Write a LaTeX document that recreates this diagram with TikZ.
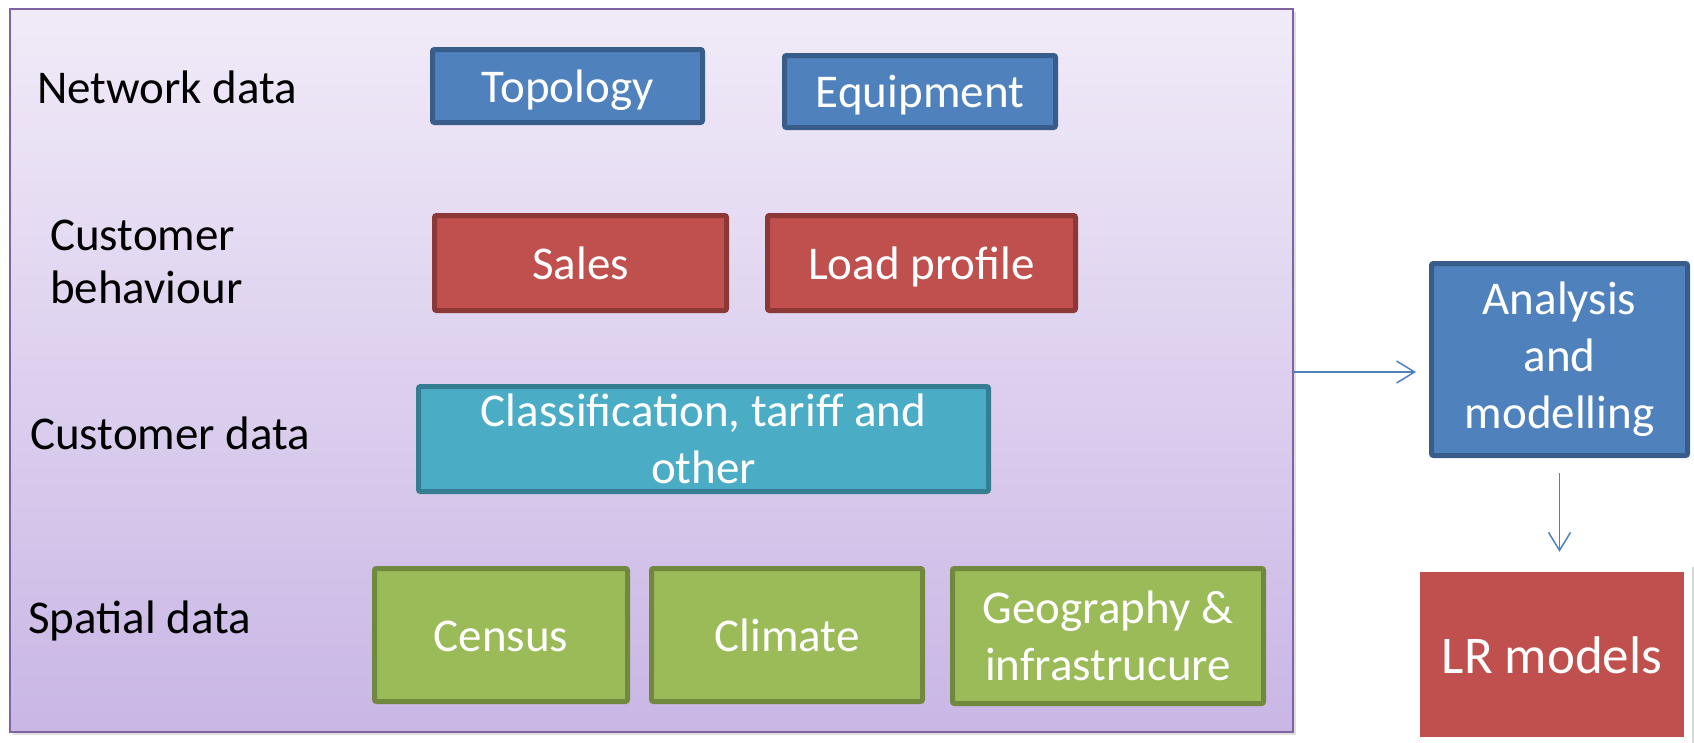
\documentclass[tikz,border=0pt]{standalone}
\usepackage{fontspec}
\setmainfont{Carlito}
\usetikzlibrary{arrows.meta,shadows}
\definecolor{bfill}{HTML}{4F81BD}
\definecolor{bline}{HTML}{385D8A}
\definecolor{rfill}{HTML}{C0504D}
\definecolor{rline}{HTML}{8C3836}
\definecolor{tfill}{HTML}{4BACC6}
\definecolor{tline}{HTML}{357D91}
\definecolor{gfill}{HTML}{9BBB59}
\definecolor{gline}{HTML}{71893F}
\definecolor{ptop}{HTML}{F1EBF8}
\definecolor{pbot}{HTML}{C9B6E5}
\definecolor{pline}{HTML}{8064A2}
\begin{document}
\begin{tikzpicture}[x=1pt,y=-1pt,
  txt/.style={font=\fontsize{47}{57}\selectfont, inner sep=0pt},
  lbl/.style={txt, anchor=base west, text=black},
  box/.style={txt, draw, line width=5pt, rounded corners=2pt, text=white, align=center},
  oneline/.style={text height=44pt, text depth=12pt},
  bluebox/.style={box, fill=bfill, draw=bline},
  redbox/.style={box, fill=rfill, draw=rline},
  tealbox/.style={box, fill=tfill, draw=tline},
  greenbox/.style={box, fill=gfill, draw=gline},
  conn/.style={draw=bfill, line width=1.5pt, -{Straight Barb[length=18pt,width=22pt,line width=1.5pt]}}
]
\useasboundingbox (0,0) rectangle (1694,742);

% big frame
\node[draw=pline, line width=2pt, top color=ptop, bottom color=pbot,
      minimum width=1283pt, minimum height=723pt, inner sep=0pt,
      drop shadow={opacity=0.25, shadow xshift=3pt, shadow yshift=-3pt}]
      (frame) at (651.75,370.5) {};

% row labels
\node[lbl] (lnet) at (37,103) {Network data};
\node[lbl] (lcb1) at (50,250) {Customer};
\node[lbl] (lcb2) at (50,303) {behaviour};
\node[lbl] (lcd) at (30,449) {Customer data};
\node[lbl] (lsd) at (28,633) {Spatial data};

% boxes
\node[bluebox, oneline, minimum width=270pt, minimum height=73pt] (topo) at (567.5,86) {Topology};
\node[bluebox, oneline, minimum width=271pt, minimum height=72pt] (equip) at (920,91.5) {Equipment};
\node[redbox, oneline, minimum width=292pt, minimum height=95pt] (sales) at (580.5,263) {Sales};
\node[redbox, oneline, minimum width=308pt, minimum height=95pt] (load) at (921.5,263) {Load profile};
\node[tealbox, minimum width=570pt, minimum height=105pt] (class) at (703.5,439) {Classification, tariff and\\other};
\node[greenbox, oneline, minimum width=253pt, minimum height=133pt] (census) at (501,635) {Census};
\node[greenbox, oneline, minimum width=271pt, minimum height=133pt] (climate) at (787,635) {Climate};
\node[greenbox, minimum width=311pt, minimum height=135pt] (geo) at (1108,636) {Geography \&\\infrastrucure};

% analysis
\node[bluebox, minimum width=256pt, minimum height=192pt] (ana) at (1559.5,359.5) {Analysis\\and\\modelling};

% LR models
\node[fill=white, inner sep=0pt, minimum width=280pt, minimum height=190pt,
      drop shadow={opacity=0.3, shadow xshift=2pt, shadow yshift=-1pt}]
      (lrframe) at (1552,661) {};
\node[txt, fill=rfill, text=white, minimum width=264pt, minimum height=165pt,
      text height=49pt, text depth=12pt,
      font=\fontsize{53}{60}\selectfont] (lr) at (1552,654.5) {LR models};

% connectors
\coordinate (a1) at (frame.east |- 0,372);
\draw[conn, shorten >=13pt] (a1) -- (a1 -| ana.west);
\draw[conn, shorten <=15pt, shorten >=14pt] (ana.south) -- (ana.south |- lrframe.north);
\end{tikzpicture}
\end{document}
